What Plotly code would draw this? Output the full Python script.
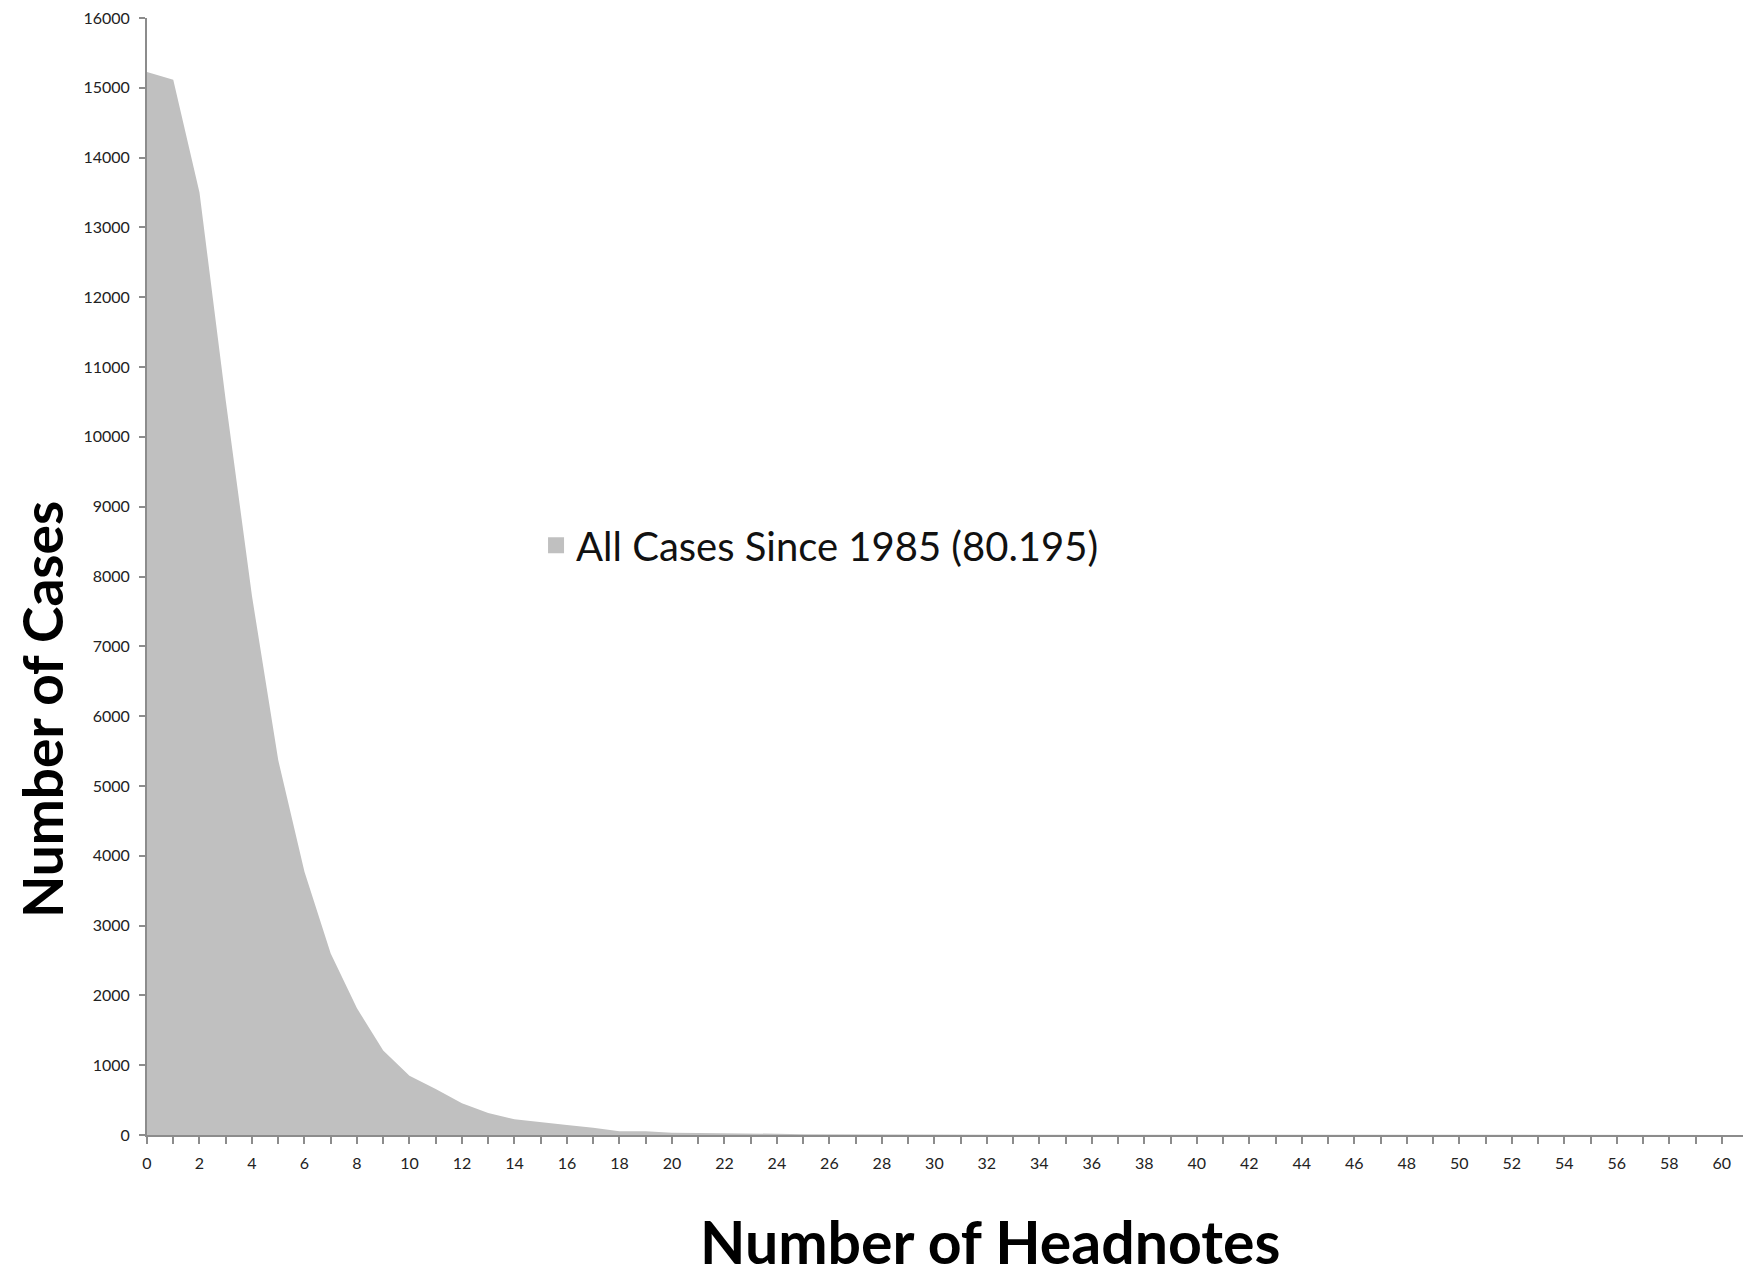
import plotly.graph_objects as go

# Number of headnotes (category axis 0..61)
headnotes = list(range(0, 62))
# Number of cases per headnote count
cases = [15225, 15115, 13500, 10520, 7720, 5370, 3770, 2600, 1815, 1210,
         850, 660, 455, 315, 225, 190, 145, 105, 55, 52,
         33, 28, 27, 24, 18, 12, 10, 9, 8, 7,
         7, 6, 6, 5, 5, 5, 4, 4, 4, 4,
         3, 3, 3, 3, 3, 3, 3, 2, 2, 2,
         2, 2, 2, 2, 2, 2, 2, 2, 1, 1,
         1, 1]
series_name = "All Cases Since 1985 (80.195)"
x_title = "Number of Headnotes"
y_title = "Number of Cases"

FILL = "#C0C0C0"
AXIS = "#8C8C8C"
FONT = "Lato"

fig = go.Figure()
fig.add_trace(go.Scatter(
    x=headnotes, y=cases, mode="lines", fill="tozeroy",
    line=dict(width=0, color=FILL), fillcolor=FILL,
    showlegend=False, hoverinfo="x+y",
))
# legend entry (square swatch)
fig.add_trace(go.Scatter(
    x=[None], y=[None], mode="markers", name=series_name,
    marker=dict(symbol="square", size=24, color=FILL),
))

fig.update_layout(
    width=1751, height=1274,
    margin=dict(l=139, r=11, t=10, b=147, autoexpand=False),
    paper_bgcolor="white", plot_bgcolor="white",
    font=dict(family=FONT, color="#222222"),
    showlegend=True,
    legend=dict(x=0.243, y=0.528, xanchor="left", yanchor="middle",
                font=dict(family=FONT, size=40, color="#111111"),
                bgcolor="rgba(0,0,0,0)", itemsizing="trace"),
    annotations=[
        dict(text=x_title, xref="paper", yref="paper", x=0.5265, y=-0.095,
             xanchor="center", yanchor="middle", showarrow=False,
             borderpad=0,
             font=dict(family=FONT, size=59, color="black", weight="bold")),
        dict(text=y_title, xref="paper", yref="paper", x=-0.0655, y=0.3805,
             xanchor="center", yanchor="middle", showarrow=False,
             textangle=-90, borderpad=0,
             font=dict(family=FONT, size=55, color="black", weight="bold")),
    ],
)
fig.update_xaxes(
    range=[0, 61], tick0=0, dtick=2, ticks="outside", ticklen=7,
    tickwidth=2, tickcolor=AXIS, showline=True, linecolor=AXIS,
    linewidth=2, showgrid=False, zeroline=False,
    tickfont=dict(family=FONT, size=16, color="#222222"),
    ticklabelstandoff=6, ticklabeloverflow="allow",
    minor=dict(dtick=1, ticks="outside", ticklen=7, tickwidth=2,
               tickcolor=AXIS, showgrid=False),
    automargin=False,
)
fig.update_yaxes(
    range=[0, 16000], dtick=1000, tickformat="d", ticks="outside",
    ticklen=6, tickwidth=2, tickcolor=AXIS, showline=True, linecolor=AXIS,
    linewidth=2, showgrid=False, zeroline=False,
    tickfont=dict(family=FONT, size=16, color="#222222"),
    ticklabelstandoff=6, ticklabeloverflow="allow",
    automargin=False,
)

fig.write_html("out.html")
